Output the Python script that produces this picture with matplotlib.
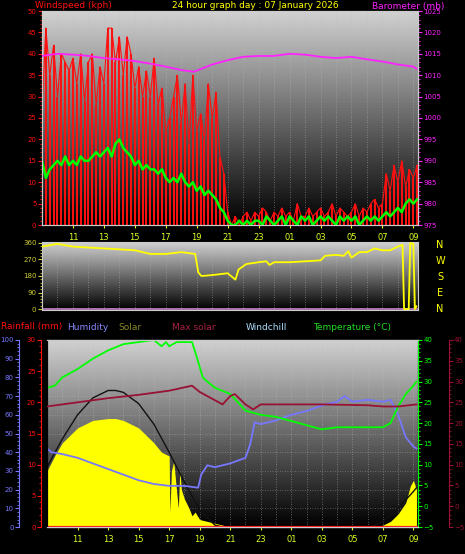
import numpy as np
import matplotlib
matplotlib.use('Agg')
import matplotlib.pyplot as plt
from matplotlib.ticker import MultipleLocator

# 15-minute wind samples starting 09:00
gust = [27, 46, 35, 42, 30, 40, 38, 36, 39, 33, 40, 29, 38, 40, 28, 37,
        33, 46, 46, 38, 44, 35, 44, 40, 32, 37, 30, 36, 30, 39, 28, 32,
        22, 25, 30, 35, 24, 33, 19, 35, 22, 26, 20, 33, 25, 31, 16, 12,
        3, 0, 2, 0, 2, 3, 1, 3, 2, 4, 3, 1, 3, 2, 4, 2,
        3, 1, 5, 2, 2, 4, 2, 3, 4, 2, 3, 5, 2, 4, 3, 2,
        3, 5, 2, 4, 3, 5, 6, 4, 5, 12, 8, 14, 10, 15, 9, 13, 11, 14]
avg_speed = [15, 11, 13, 14, 15, 14, 16, 14, 15, 14, 16, 15, 15, 16, 17, 16,
             17, 18, 16, 19, 20, 18, 17, 16, 14, 15, 13, 14, 13, 13, 12, 13,
             11, 10, 11, 10, 12, 10, 9, 10, 8, 9, 7, 8, 7, 6, 4, 3,
             1, 0, 0, 1, 0, 1, 0, 1, 1, 0, 2, 1, 0, 1, 2, 0,
             2, 1, 0, 2, 1, 2, 0, 1, 2, 1, 2, 1, 0, 2, 1, 2,
             1, 2, 0, 1, 2, 1, 2, 1, 2, 3, 2, 3, 4, 3, 5, 6, 5, 6]

baro_t = [9, 10, 11, 12, 13, 14, 15, 16, 17, 18, 18.8, 19.3, 20, 21, 22, 23, 24, 25, 26, 27, 28, 29, 30, 31, 32, 33, 33.2]
baro = [1014.5, 1015, 1014.8, 1014.5, 1014, 1013.7, 1013.3, 1012.7, 1012, 1011.2, 1010.8, 1011.5, 1012.5, 1013.5, 1014.3, 1014.5,
        1014.5, 1015, 1014.8, 1014.3, 1014, 1014.3, 1013.7, 1013.2, 1012.5, 1012, 1011.5]

dir_t = [9, 10, 11, 12, 13, 14, 15, 16, 17, 18, 18.9, 19.1, 19.3, 20, 21, 21.5, 21.7, 22.2, 23, 23.5, 23.7, 24, 25, 26, 27, 27.3,
         28, 28.5, 28.8, 29, 29.5, 30, 30.5, 31, 31.5, 32, 32.3, 32.4, 32.7, 32.8, 33, 33.1, 33.2]
direction = [340, 355, 340, 335, 330, 325, 320, 300, 300, 310, 300, 200, 180, 185, 195, 160, 215, 245, 255, 260, 240, 255, 255, 260,
             265, 290, 295, 290, 315, 280, 310, 310, 330, 320, 320, 340, 350, 0, 0, 360, 355, 0, 15]

solar_t = [9, 9.5, 10, 11, 12, 13, 13.5, 14, 15, 16, 16.5, 17, 17.05, 17.15, 17.3, 17.6, 17.7, 17.8, 18, 18.3, 18.5, 18.7, 19, 19.5,
           20, 20.5, 21, 30.5, 31, 31.5, 32, 32.5, 32.8, 33, 33.2]
solar = [30, 38, 45, 53, 57, 58, 58, 57, 53, 45, 40, 38, 8, 30, 35, 10, 30, 20, 15, 10, 6, 8, 4, 3,
         2, 1, 0, 0, 1, 3, 7, 13, 22, 25, 20]
maxsolar_t = [9, 10, 11, 12, 13, 13.5, 14, 15, 16, 17, 18, 19, 20, 20.5, 30.2, 31, 32, 33, 33.2]
maxsolar = [32, 47, 60, 69, 73, 73, 72, 66, 55, 40, 24, 9, 1, 0, 0, 3, 10, 19, 21]

hum_t = [9, 9.3, 10, 11, 12, 13, 14, 15, 16, 17, 18, 18.9, 19.1, 19.5, 20, 21, 22, 22.3, 22.6, 23, 24, 25, 26, 27, 28, 28.5,
         29, 30, 31, 31.5, 32, 32.5, 33, 33.2]
humidity = [42, 40, 39, 37, 34, 31, 28, 25, 23, 22, 22, 21, 28, 33, 32, 34, 37, 44, 56, 55, 57, 60, 62, 65, 67, 70, 67, 68, 67, 68, 60, 48, 43, 42]

temp_t = [9, 9.5, 10, 11, 12, 13, 14, 15, 16, 16.5, 16.8, 17, 17.5, 18.5, 18.8, 19.2, 19.5, 20, 21, 22, 23, 24, 25, 26, 27, 28,
          29, 30, 31, 31.5, 32, 32.5, 33, 33.2]
temp = [28.5, 29, 31, 33, 35.5, 37.5, 39, 39.5, 40, 38.5, 39.5, 38.5, 39.5, 39.5, 36, 31, 30, 28.5, 27, 23, 22, 21.5, 20.5, 19.5, 18.5,
        19, 19, 19, 19, 20, 24, 27, 29, 30]
chill_t = [9, 11, 13, 15, 17, 18.5, 19, 20, 20.5, 21, 21.3, 22, 22.5, 23, 24, 27, 30, 31, 32, 33.2]
chill = [24, 25, 26, 26.8, 27.8, 29, 27.5, 25.5, 24.5, 26.5, 27, 24.5, 23.3, 24.5, 24.5, 24.5, 24.3, 24, 24, 24.5]

hour_ticks = list(range(11, 34, 2))
hour_labels = ['%02d' % (h % 24) for h in hour_ticks]

BG = 'black'
YEL = '#ddff22'


def backdrop(ax):
  grad = np.linspace(0.82, 0.0, 256).reshape(-1, 1)
  ax.imshow(grad, cmap='gray', vmin=0, vmax=1, aspect='auto',
            extent=[0, 1, 0, 1], transform=ax.transAxes, zorder=0)
  for h in range(10, 34):
    ax.axvline(h, color='#bbbbbb', lw=0.6, ls=(0, (1, 2)), zorder=0.5, alpha=0.6)


def px(x0, y0, x1, y1):
  return [x0 / 465, 1 - y1 / 554, (x1 - x0) / 465, (y1 - y0) / 554]


def yaxis_style(a, color):
  a.tick_params(axis='y', which='major', colors=color, labelsize=5, length=3, pad=1)
  a.tick_params(axis='y', which='minor', colors=color, length=1.5)


fig = plt.figure(figsize=(4.65, 5.54), dpi=100, facecolor=BG)
plt.rcParams['font.size'] = 6

tq = np.arange(len(gust)) * 0.25 + 9
X0, X1 = 9, 33.3

# ---- wind / barometer
ax1 = fig.add_axes(px(42, 11, 418, 225))
backdrop(ax1)
ax1.vlines(tq, 0, gust, color='#ff1010', lw=1.4, zorder=2)
ax1.plot(tq, gust, color='#ff1010', lw=0.8, zorder=2)
ax1.plot(tq, avg_speed, color='#00ff00', lw=1.8, zorder=3)
ax1.set_xlim(X0, X1)
ax1.set_ylim(0, 50)
ax1.yaxis.set_major_locator(MultipleLocator(5))
ax1.yaxis.set_minor_locator(MultipleLocator(1))
yaxis_style(ax1, '#ff1010')
ax1.set_xticks(hour_ticks)
ax1.set_xticklabels(hour_labels)
ax1.tick_params(axis='x', colors=YEL, labelsize=6, length=2)
axb = ax1.twinx()
axb.plot(baro_t, baro, color='#ff22ff', lw=1.3, zorder=3)
axb.set_ylim(975, 1025)
axb.yaxis.set_major_locator(MultipleLocator(5))
axb.yaxis.set_minor_locator(MultipleLocator(1))
yaxis_style(axb, '#ff22ff')
for a in (ax1, axb):
  for s in a.spines.values():
    s.set_color('#cccccc')

# ---- wind direction
ax2 = fig.add_axes(px(42, 242, 418, 310))
backdrop(ax2)
ax2.plot(dir_t, direction, color='#ffff00', lw=1.3, zorder=3)
ax2.axhline(0, color='#cc88cc', lw=1.2, zorder=2)
ax2.set_xlim(X0, X1)
ax2.set_ylim(-5, 365)
ax2.set_yticks([0, 90, 180, 270, 360])
ax2.yaxis.set_minor_locator(MultipleLocator(18))
ax2.set_xticks([])
yaxis_style(ax2, '#cccc33')
for s in ax2.spines.values():
  s.set_color('#cccccc')
for i, c in enumerate('NWSEN'):
  fig.text(440 / 465, 1 - (245 + i * 16) / 554, c, color='#ffff00', fontsize=7, ha='center', va='center')

# ---- bottom panel
ax3 = fig.add_axes(px(47, 340, 418, 527))
backdrop(ax3)
ax3.set_xlim(X0, X1)
ax3.set_ylim(0, 100)
ax3.fill_between(solar_t, 0, solar, color='#ffff00', zorder=1.5, lw=0)
ax3.plot(maxsolar_t, maxsolar, color='#111111', lw=1, zorder=2)
ax3.plot(hum_t, humidity, color='#7777ff', lw=1.3, zorder=3)
ax3.spines['left'].set_position(('outward', 20))
ax3.spines['left'].set_color('#7777ff')
ax3.yaxis.set_major_locator(MultipleLocator(10))
ax3.yaxis.set_minor_locator(MultipleLocator(2))
yaxis_style(ax3, '#7777ff')
ax3.set_xticks(hour_ticks)
ax3.set_xticklabels(hour_labels)
ax3.tick_params(axis='x', colors=YEL, labelsize=6, length=2)
for h in range(0, 101, 10):
  ax3.axhline(h, color='#bbbbbb', lw=0.6, ls=(0, (1, 2)), zorder=0.5, alpha=0.5)

axr = ax3.twinx()
axr.yaxis.set_label_position('left')
axr.yaxis.tick_left()
axr.spines['left'].set_position(('outward', 4))
axr.spines['left'].set_color('#ff1010')
axr.set_ylim(0, 30)
axr.yaxis.set_major_locator(MultipleLocator(5))
axr.yaxis.set_minor_locator(MultipleLocator(1))
yaxis_style(axr, '#ff1010')
axr.plot([X0, X1], [0, 0], color='#ff1010', lw=1.6, zorder=3)

axt = ax3.twinx()
axt.set_ylim(-5, 40)
axt.plot(temp_t, temp, color='#00ff00', lw=1.3, zorder=3)
axt.yaxis.set_major_locator(MultipleLocator(5))
axt.yaxis.set_minor_locator(MultipleLocator(1))
yaxis_style(axt, '#00ff00')
axt.spines['right'].set_color('#00ff00')

axc = ax3.twinx()
axc.set_ylim(-5, 40)
axc.plot(chill_t, chill, color='#991133', lw=1.3, zorder=3)
axc.spines['right'].set_position(('outward', 22))
axc.spines['right'].set_color('#991133')
axc.yaxis.set_major_locator(MultipleLocator(5))
axc.yaxis.set_minor_locator(MultipleLocator(1))
yaxis_style(axc, '#991133')
for a in (ax3, axr, axt, axc):
  a.spines['top'].set_color('#cccccc')
  a.spines['bottom'].set_color('#cccccc')

# ---- titles
fig.text(35 / 465, 1 - 6 / 554, 'Windspeed (kph)', color='#ff1010', fontsize=6.5, va='center')
fig.text(172 / 465, 1 - 6 / 554, '24 hour graph day : 07 January 2026', color='#ffff00', fontsize=6.5, va='center')
fig.text(372 / 465, 1 - 6 / 554, 'Barometer (mb)', color='#ff22ff', fontsize=6.5, va='center')
legend = [(1, 'Rainfall (mm)', '#ff1010'), (67, 'Humidity', '#8888ff'), (118, 'Solar', '#888822'),
          (172, 'Max solar', '#aa2244'), (246, 'Windchill', '#aaddff'), (313, 'Temperature (°C)', '#22dd22')]
for x, t, c in legend:
  fig.text(x / 465, 1 - 327 / 554, t, color=c, fontsize=6.5, va='center')

fig.savefig('out.png', dpi=100, facecolor=BG)
